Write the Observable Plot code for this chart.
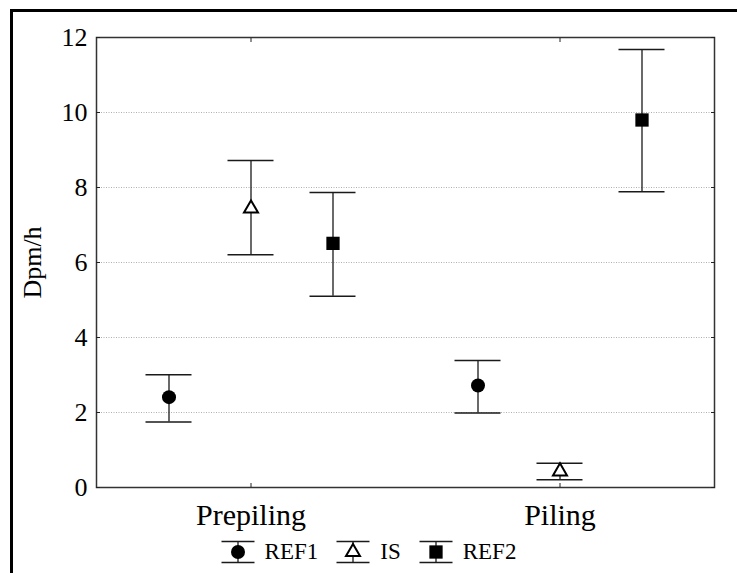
<!DOCTYPE html>
<html>
<head>
<meta charset="utf-8">
<script src="https://cdn.jsdelivr.net/npm/d3@7"></script>
<script src="https://cdn.jsdelivr.net/npm/@observablehq/plot@0.6"></script>
<style>
  html, body { margin: 0; padding: 0; overflow: hidden; background: #fff; width: 737px; height: 573px; }
  #border { position: absolute; left: 10px; top: 9px; width: 800px; height: 700px; border: 3px solid #000; box-sizing: border-box; }
  #chart { position: absolute; left: 0; top: 0; }
  #legend { position: absolute; left: 0; top: 530px; width: 737px; height: 43px; display: flex; justify-content: center; align-items: center; gap: 18px; font-size: 23px; color: #000; }
  .item { display: flex; align-items: center; gap: 10px; }
</style>
</head>
<body>
<div id="border"></div>
<div id="chart"></div>
<div id="legend"></div>
<script>
// ---- data ----
const categories = ["Prepiling", "Piling"];
const series = ["REF1", "IS", "REF2"];
const meanREF1 = [2.41, 2.72];
const lowREF1  = [1.75, 1.99];
const highREF1 = [3.01, 3.39];
const meanIS = [7.44, 0.43];
const lowIS  = [6.21, 0.21];
const highIS = [8.72, 0.65];
const meanREF2 = [6.51, 9.80];
const lowREF2  = [5.10, 7.89];
const highREF2 = [7.87, 11.68];
const yTicks = [0, 2, 4, 6, 8, 10, 12];
const yLabel = "Dpm/h";

const FONT = '"Liberation Serif", Tinos, "Times New Roman", serif';

const seriesData = {
  REF1: {mean: meanREF1, low: lowREF1, high: highREF1},
  IS:   {mean: meanIS, low: lowIS, high: highIS},
  REF2: {mean: meanREF2, low: lowREF2, high: highREF2}
};
const symbols = {REF1: "circle", IS: "triangle", REF2: "square"};
const radius = {REF1: 7, IS: 5.2, REF2: 7.5};
const fills = {REF1: "#000", IS: "#fff", REF2: "#000"};

// ---- layout ----
const W = 737, H = 530;
const mL = 96, mR = 23, mT = 37, mB = 43;
const band = (W - mL - mR) / categories.length;
const offset = 82;
const capW = 46;
const capInset = (band - capW) / 2;

const marks = [
  Plot.gridY(yTicks.filter(d => d > 0 && d < 12), {stroke: "#9a9a9a", strokeOpacity: 1, strokeWidth: 0.8, strokeDasharray: "1,1.5"}),
  Plot.frame({stroke: "#333", strokeWidth: 1.5}),
  Plot.axisY({ticks: yTicks, tickSize: 0, tickPadding: 9, label: yLabel, labelAnchor: "center", labelArrow: "none", labelOffset: 74, fontSize: 26, fontFamily: FONT}),
  Plot.axisY({anchor: "left", ticks: yTicks, tickSize: 4, dx: 4, fill: "none", label: null, stroke: "#222"}),
  Plot.axisY({anchor: "right", ticks: yTicks, tickSize: 4, dx: -4, fill: "none", label: null, stroke: "#222"}),
  Plot.axisX({anchor: "bottom", tickSize: 0, tickPadding: 16, fontSize: 30, fontFamily: FONT, label: null}),
  Plot.axisX({anchor: "bottom", tickSize: 4, dy: -4, fill: "none", label: null, stroke: "#222"}),
  Plot.axisX({anchor: "top", tickSize: 4, dy: 4, fill: "none", label: null, stroke: "#222"})
];

series.forEach((s, i) => {
  const rows = categories.map((c, j) => ({
    category: c, series: s,
    mean: seriesData[s].mean[j], low: seriesData[s].low[j], high: seriesData[s].high[j]
  }));
  const dx = (i - 1) * offset;
  marks.push(
    Plot.ruleX(rows, {x: "category", y1: "low", y2: "high", dx, stroke: "#1a1a1a", strokeWidth: 1.3}),
    Plot.tickY(rows, {x: "category", y: "high", dx, insetLeft: capInset, insetRight: capInset, stroke: "#1a1a1a", strokeWidth: 1.5}),
    Plot.tickY(rows, {x: "category", y: "low", dx, insetLeft: capInset, insetRight: capInset, stroke: "#1a1a1a", strokeWidth: 1.5}),
    Plot.dot(rows, {x: "category", y: "mean", dx, symbol: symbols[s], r: radius[s], fill: fills[s], stroke: "#000", strokeWidth: s === "IS" ? 2 : 0})
  );
});

const chart = Plot.plot({
  width: W, height: H,
  marginLeft: mL, marginRight: mR, marginTop: mT, marginBottom: mB,
  style: {fontFamily: FONT, fontSize: "26px", color: "#000", background: "transparent", overflow: "visible"},
  x: {type: "band", domain: categories, padding: 0, axis: null},
  y: {domain: [0, 12], axis: null},
  marks
});
chart.setAttribute("font-family", FONT);
chart.style.fontFamily = FONT;
chart.querySelectorAll("text").forEach(t => { t.style.fontFamily = FONT; t.setAttribute("fill", "#000"); });
document.getElementById("chart").appendChild(chart);

// ---- legend ----
const legend = document.getElementById("legend");
legend.style.fontFamily = FONT;
series.forEach(s => {
  const item = document.createElement("div");
  item.className = "item";
  const svg = d3.create("svg").attr("width", 34).attr("height", 24);
  svg.append("line").attr("x1", 0.5).attr("x2", 33.5).attr("y1", 1.5).attr("y2", 1.5).attr("stroke", "#1a1a1a").attr("stroke-width", 1.5);
  svg.append("line").attr("x1", 0.5).attr("x2", 33.5).attr("y1", 22.5).attr("y2", 22.5).attr("stroke", "#1a1a1a").attr("stroke-width", 1.5);
  svg.append("line").attr("x1", 17).attr("x2", 17).attr("y1", 1.5).attr("y2", 22.5).attr("stroke", "#1a1a1a").attr("stroke-width", 1.3);
  const symType = {REF1: d3.symbolCircle, IS: d3.symbolTriangle, REF2: d3.symbolSquare}[s];
  const r = radius[s];
  svg.append("path")
    .attr("transform", "translate(17,12)")
    .attr("d", d3.symbol(symType, r * r * Math.PI)())
    .attr("fill", fills[s]).attr("stroke", "#000").attr("stroke-width", s === "IS" ? 2 : 0);
  item.appendChild(svg.node());
  const t = document.createElement("span");
  t.textContent = s;
  t.style.fontFamily = FONT;
  item.appendChild(t);
  legend.appendChild(item);
});
</script>
</body>
</html>
